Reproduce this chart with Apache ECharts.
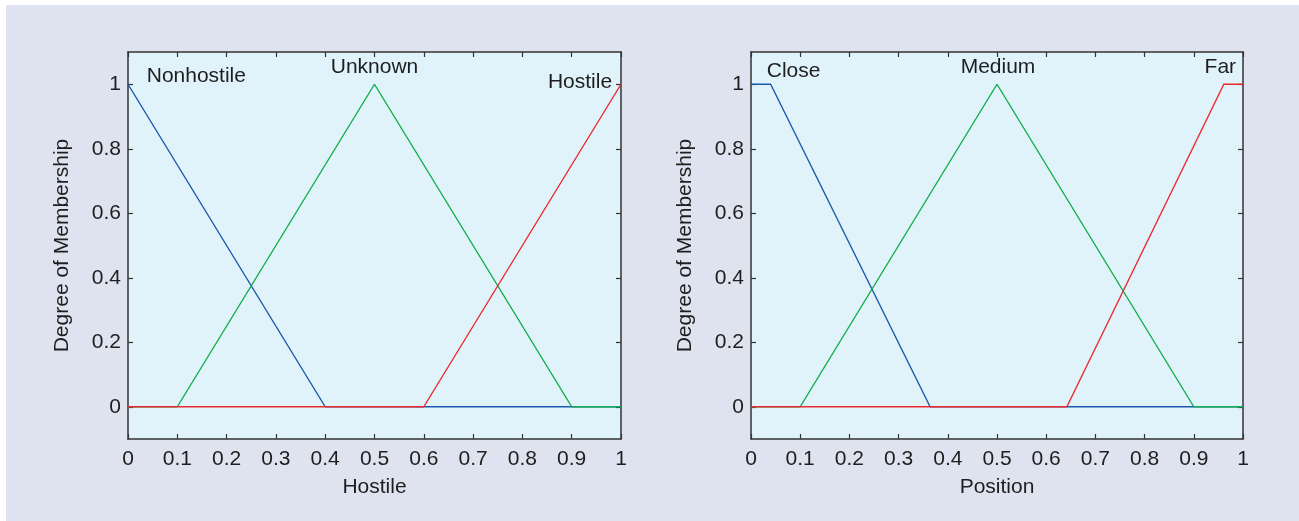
<!DOCTYPE html>
<html>
<head>
<meta charset="utf-8">
<script src="https://cdn.jsdelivr.net/npm/echarts@6/dist/echarts.min.js"></script>
<style>
html,body{margin:0;padding:0;background:#ffffff;}
#chart{position:absolute;left:6px;top:5px;width:1293px;height:516px;}
</style>
</head>
<body>
<div id="chart"></div>
<script>
// ---- data ----
var xTicks = [0,0.1,0.2,0.3,0.4,0.5,0.6,0.7,0.8,0.9,1];
var yTicks = [0,0.2,0.4,0.6,0.8,1];

var nonhostile = [[0,1],[0.4,0],[1,0]];
var unknown    = [[0,0],[0.1,0],[0.5,1],[0.9,0],[1,0]];
var hostile    = [[0,0],[0.6,0],[1,1]];

var close_     = [[0,1],[0.04,1],[0.364,0],[1,0]];
var medium     = [[0,0],[0.1,0],[0.5,1],[0.9,0],[1,0]];
var far        = [[0,0],[0.642,0],[0.961,1],[1,1]];

var leftLabels  = [{name:'Nonhostile', value:[0.038,1.025], align:'left'},
                   {name:'Unknown',    value:[0.5,1.052],  align:'center'},
                   {name:'Hostile',    value:[0.982,1.006], align:'right'}];
var rightLabels = [{name:'Close',  value:[0.032,1.04],  align:'left'},
                   {name:'Medium', value:[0.502,1.052], align:'center'},
                   {name:'Far',    value:[0.986,1.053], align:'right'}];

var xNames = ['Hostile','Position'];
var yName = 'Degree of Membership';

// ---- styles ----
var C_BLUE = '#1c58ab', C_GREEN = '#12ad4c', C_RED = '#ec2a2e';
var AX = '#333333', TXT = '#1e1e1e';
var FONT = '"Liberation Sans", Arial, sans-serif';
var FS = 21;

function fmt(v){ if (Math.abs(v) < 1e-9) return '0'; if (Math.abs(v-1) < 1e-9) return '1'; return (Math.round(v*10)/10).toFixed(1); }

var grids = [
  {left:122, top:47, width:493, height:387, show:true, backgroundColor:'#e0f3fa', borderWidth:0},
  {left:745, top:47, width:492, height:387, show:true, backgroundColor:'#e0f3fa', borderWidth:0}
];

var xAxes = [], yAxes = [];
[0,1].forEach(function(g){
  xAxes.push({
    type:'value', gridIndex:g, min:0, max:1, interval:0.1, position:'bottom',
    name:xNames[g], nameLocation:'middle', nameGap:38,
    nameTextStyle:{color:TXT, fontSize:FS, fontFamily:FONT},
    axisLine:{show:true, onZero:false, lineStyle:{color:AX, width:1.5}},
    axisTick:{show:true, inside:true, length:5, lineStyle:{color:AX, width:1.2}},
    axisLabel:{color:TXT, fontSize:FS, fontFamily:FONT, margin:10, formatter:fmt, showMinLabel:true, showMaxLabel:true},
    splitLine:{show:false}
  });
  xAxes.push({
    type:'value', gridIndex:g, min:0, max:1, interval:0.1, position:'top',
    axisLine:{show:true, onZero:false, lineStyle:{color:AX, width:1.5}},
    axisTick:{show:true, inside:true, length:5, lineStyle:{color:AX, width:1.2}},
    axisLabel:{show:false}, splitLine:{show:false}
  });
  yAxes.push({
    type:'value', gridIndex:g, min:-0.1, max:1.1, position:'left',
    name:yName, nameLocation:'middle', nameGap:55, nameRotate:90,
    nameTextStyle:{color:TXT, fontSize:FS, fontFamily:FONT},
    axisLine:{show:true, onZero:false, lineStyle:{color:AX, width:1.5}},
    axisTick:{show:true, inside:true, length:5, customValues:yTicks, lineStyle:{color:AX, width:1.2}},
    axisLabel:{color:TXT, fontSize:FS, fontFamily:FONT, margin:7, customValues:yTicks, formatter:fmt},
    splitLine:{show:false}
  });
  yAxes.push({
    type:'value', gridIndex:g, min:-0.1, max:1.1, position:'right',
    axisLine:{show:true, onZero:false, lineStyle:{color:AX, width:1.5}},
    axisTick:{show:true, inside:true, length:5, customValues:yTicks, lineStyle:{color:AX, width:1.2}},
    axisLabel:{show:false, customValues:yTicks}, splitLine:{show:false}
  });
});

function line(data, color, xi, yi){
  return {type:'line', data:data, xAxisIndex:xi, yAxisIndex:yi, symbol:'none', silent:true,
    lineStyle:{color:color, width:1.4}, animation:false};
}
function labels(items, xi, yi){
  return {type:'scatter', xAxisIndex:xi, yAxisIndex:yi, symbolSize:0, silent:true, animation:false,
    itemStyle:{opacity:1},
    data: items.map(function(it){
      return {name:it.name, value:it.value,
        label:{show:true, position:'inside', formatter:'{b}', align:it.align, verticalAlign:'middle',
          color:TXT, opacity:1, fontSize:FS, fontFamily:FONT}};
    })};
}

var option = {
  backgroundColor:'#dfe3f0',
  animation:false,
  grid:grids,
  xAxis:xAxes,
  yAxis:yAxes,
  series:[
    line(nonhostile, C_BLUE, 0, 0),
    line(unknown, C_GREEN, 0, 0),
    line(hostile, C_RED, 0, 0),
    labels(leftLabels, 0, 0),
    line(close_, C_BLUE, 2, 2),
    line(medium, C_GREEN, 2, 2),
    line(far, C_RED, 2, 2),
    labels(rightLabels, 2, 2)
  ]
};
var chart = echarts.init(document.getElementById('chart'), null, {renderer:'canvas'});
chart.setOption(option);
</script>
</body>
</html>
